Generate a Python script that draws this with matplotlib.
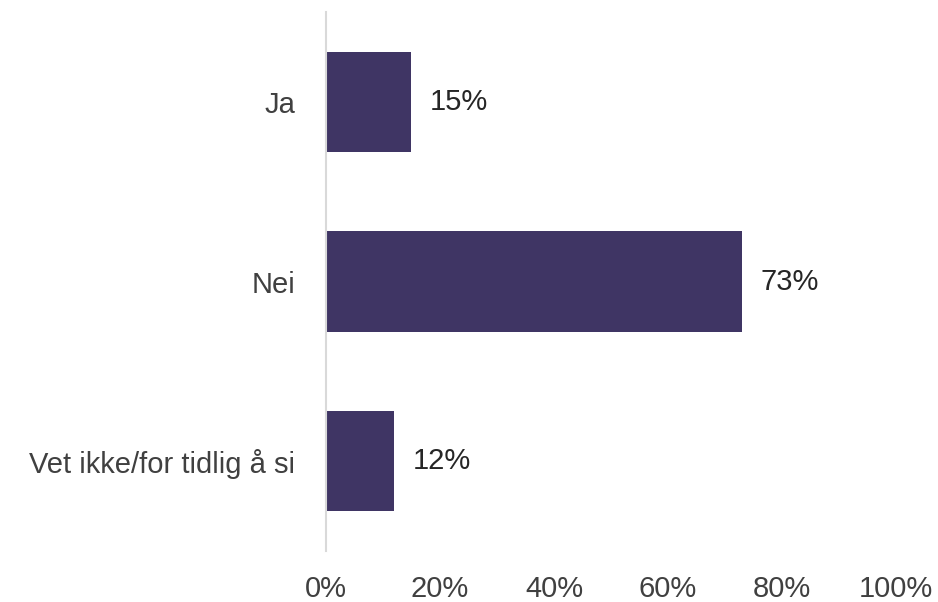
import matplotlib
matplotlib.use("Agg")
import matplotlib.pyplot as plt
from matplotlib.ticker import FuncFormatter

categories = ["Ja", "Nei", "Vet ikke/for tidlig å si"]
values = [15, 73, 12]
xticks = [0, 20, 40, 60, 80, 100]

plt.rcParams['font.family'] = ['Liberation Sans', 'DejaVu Sans']

fig = plt.figure(figsize=(9.38, 6.02), dpi=100)
ax = fig.add_axes([0.3475, 0.0847, 0.6077, 0.8953])

y = list(range(len(categories)))
ax.barh(y, values, height=0.56, color='#3F3564')
ax.set_ylim(2.5, -0.5)
ax.set_xlim(0, 100)
ax.set_yticks(y)
ax.set_yticklabels(categories, fontsize=21, color='#404040')
ax.set_xticks(xticks)
ax.xaxis.set_major_formatter(FuncFormatter(lambda v, p: f"{int(v)}%"))
ax.tick_params(axis='x', length=0, pad=17, labelsize=21, labelcolor='#404040')
ax.tick_params(axis='y', length=0, pad=22)

for s in ['top', 'right', 'bottom']:
    ax.spines[s].set_visible(False)
ax.spines['left'].set_color('#D9D9D9')
ax.spines['left'].set_linewidth(1.5)

for yi, v in zip(y, values):
    ax.annotate(f"{v}%", xy=(v, yi), xytext=(13, 0), textcoords='offset points',
                va='center', ha='left', fontsize=21, color='#262626')

fig.savefig("out.png", dpi=100)
